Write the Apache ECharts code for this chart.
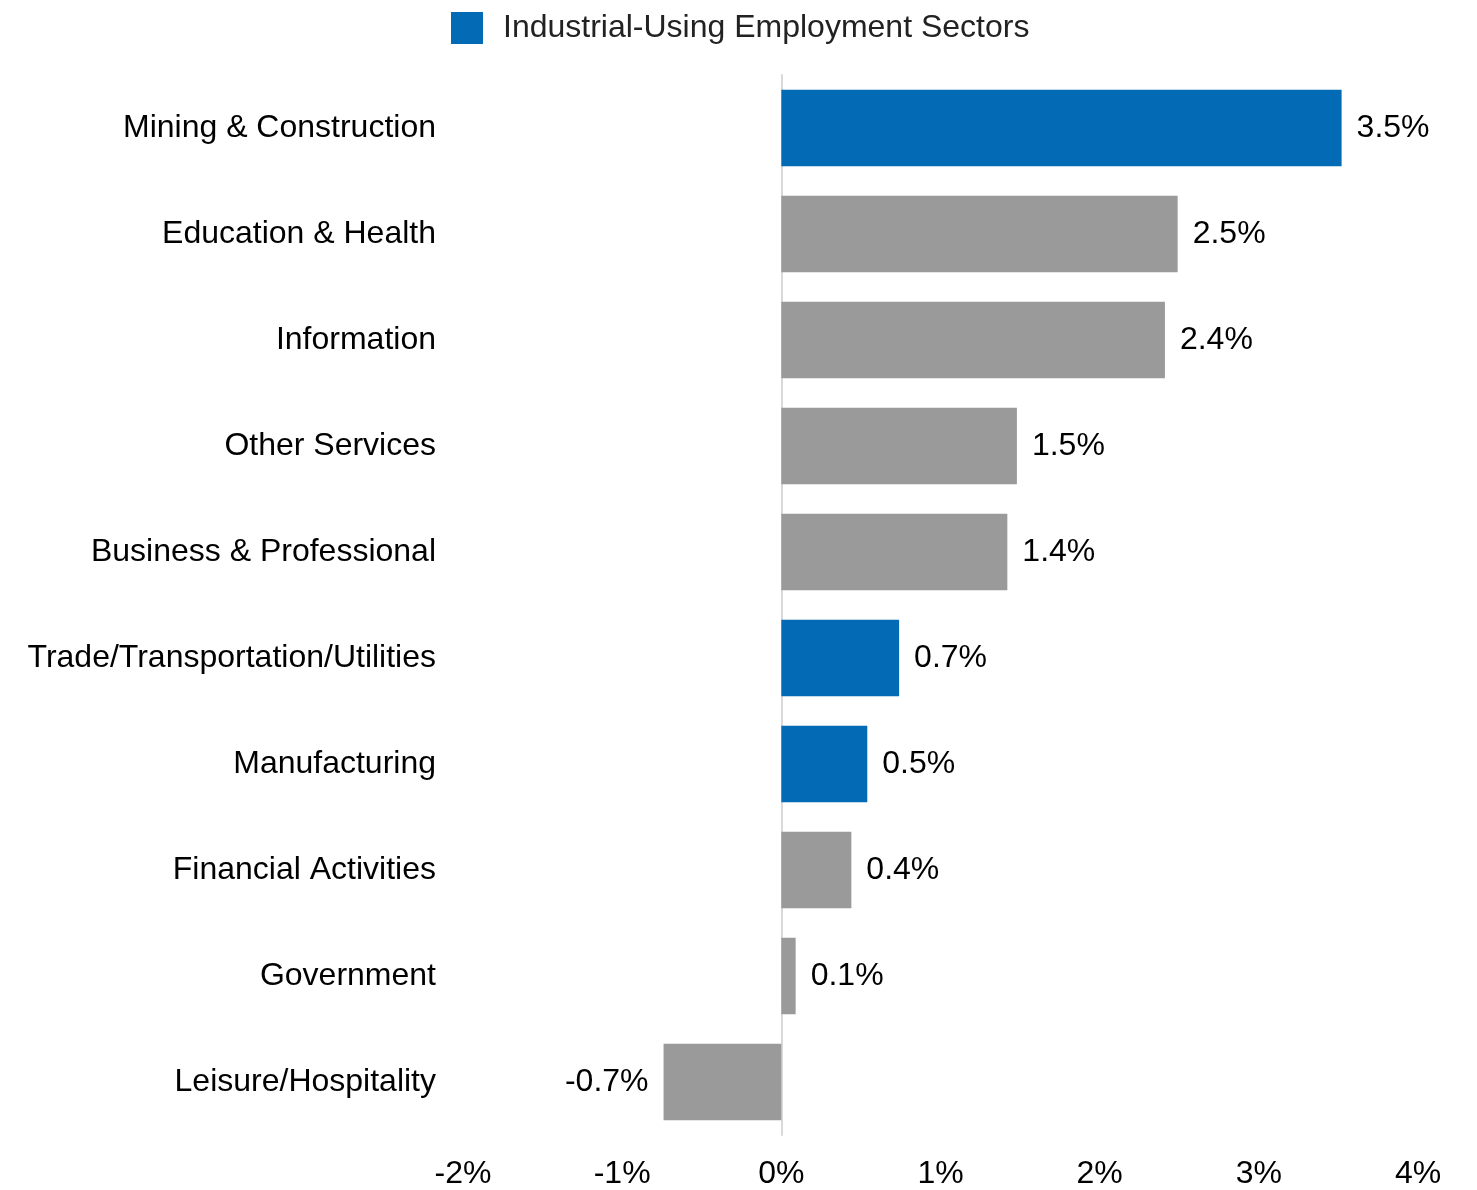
<!DOCTYPE html>
<html>
<head>
<meta charset="utf-8">
<script src="https://cdn.jsdelivr.net/npm/echarts@6/dist/echarts.min.js"></script>
<style>
  html, body { margin: 0; padding: 0; background: #fff; }
  #chart { width: 1477px; height: 1190px; }
</style>
</head>
<body>
<div id="chart"></div>
<script>
// Employment growth by sector, top to bottom
const categories = [
  'Mining & Construction',
  'Education & Health',
  'Information',
  'Other Services',
  'Business & Professional',
  'Trade/Transportation/Utilities',
  'Manufacturing',
  'Financial Activities',
  'Government',
  'Leisure/Hospitality'
];
const growthPct = [3.52, 2.49, 2.41, 1.48, 1.42, 0.74, 0.54, 0.44, 0.09, -0.74];
// sectors that use industrial space
const industrialUsing = [true, false, false, false, false, true, true, false, false, false];
const xTicks = [-2, -1, 0, 1, 2, 3, 4];

const BLUE = '#036AB5';
const GRAY = '#9A9A9A';
const FONT = '"Liberation Sans", Arial, sans-serif';
const LEGEND_NAME = 'Industrial-Using Employment Sectors';

const chart = echarts.init(document.getElementById('chart'));

const data = growthPct.map((v, i) => ({
  value: v,
  itemStyle: { color: industrialUsing[i] ? BLUE : GRAY },
  label: { position: v < 0 ? 'left' : 'right' }
}));

chart.setOption({
  animation: false,
  textStyle: { fontFamily: FONT },
  legend: {
    data: [{ name: LEGEND_NAME, itemStyle: { color: BLUE } }],
    top: 7,
    left: 446,
    itemWidth: 32,
    itemHeight: 32,
    itemGap: 10,
    icon: 'rect',
    textStyle: { fontSize: 32, color: '#222', fontFamily: FONT, padding: [0, 0, 0, 15] }
  },
  grid: { left: 463, right: 59, top: 75, bottom: 55, containLabel: false },
  xAxis: {
    type: 'value',
    min: xTicks[0],
    max: xTicks[xTicks.length - 1],
    interval: 1,
    splitLine: { show: false },
    axisLine: { show: false },
    axisTick: { show: false },
    axisLabel: {
      fontSize: 32, color: '#000', fontFamily: FONT, margin: 23,
      formatter: v => v + '%'
    }
  },
  yAxis: {
    type: 'category',
    data: categories,
    inverse: true,
    axisLine: { show: true, onZero: true, lineStyle: { color: '#D9D9D9', width: 2 } },
    axisTick: { show: false },
    axisLabel: { fontSize: 32, color: '#000', fontFamily: FONT, margin: 27, padding: [4, 0, 0, 0] }
  },
  series: [{
    name: LEGEND_NAME,
    type: 'bar',
    data: data,
    barCategoryGap: '28%',
    label: {
      show: true,
      fontSize: 32,
      color: '#000',
      fontFamily: FONT,
      distance: 15,
      padding: [4, 0, 0, 0],
      formatter: p => p.value.toFixed(1) + '%'
    }
  }]
});
</script>
</body>
</html>
